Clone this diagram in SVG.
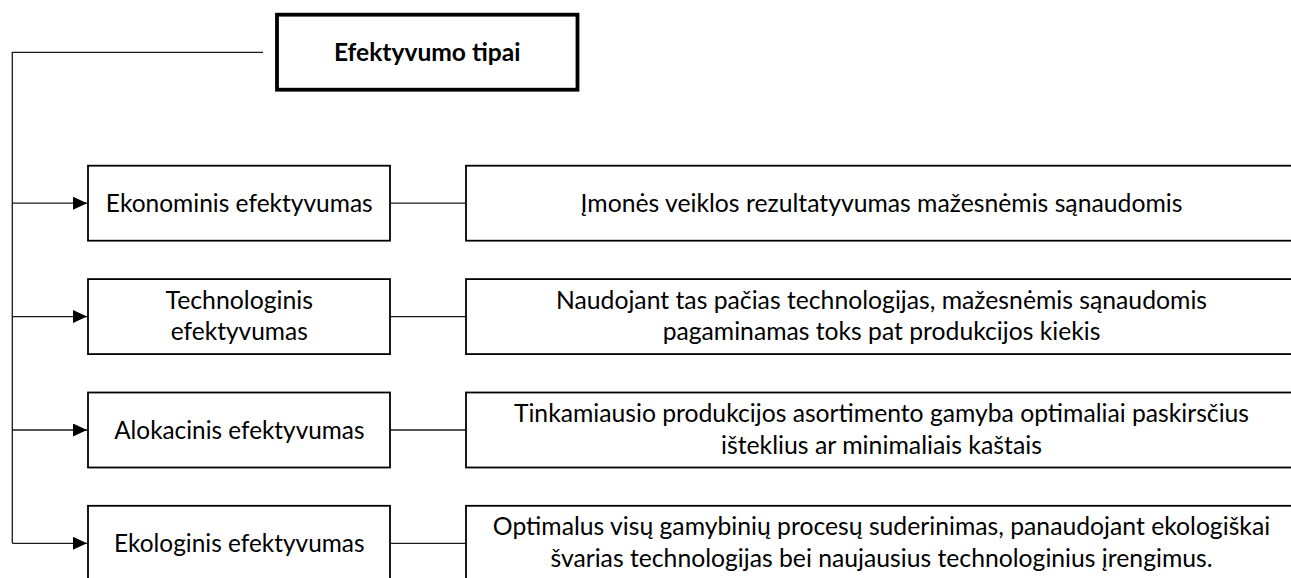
<svg xmlns="http://www.w3.org/2000/svg" width="1291" height="578" viewBox="0 0 1291 578">
<style>
  .box { fill: #fff; stroke: #000; stroke-width: 1.8; }
  .title { fill: #fff; stroke: #000; stroke-width: 3.8; }
  .conn { fill: none; stroke: #1a1a1a; stroke-width: 1.3; }
  text { font-family: Lato, "Open Sans", "Liberation Sans", sans-serif; font-size: 25px; fill: #000; text-anchor: middle; }
  .b { font-weight: bold; }
</style>
<defs>
  <marker id="arr" markerUnits="userSpaceOnUse" markerWidth="16" markerHeight="14" refX="14" refY="6.5" orient="auto">
    <path d="M0,0 L14,6.5 L0,13 Z" fill="#000"/>
  </marker>
</defs>

<g id="connectors">
  <polyline class="conn" points="263,52.3 12.3,52.3 12.3,543.3"/>
  <line class="conn" x1="12.3" y1="203.2" x2="87" y2="203.2" marker-end="url(#arr)"/>
  <line class="conn" x1="12.3" y1="316.6" x2="87" y2="316.6" marker-end="url(#arr)"/>
  <line class="conn" x1="12.3" y1="430" x2="87" y2="430" marker-end="url(#arr)"/>
  <line class="conn" x1="12.3" y1="543.3" x2="87" y2="543.3" marker-end="url(#arr)"/>
  <line class="conn" x1="390" y1="203.2" x2="466" y2="203.2"/>
  <line class="conn" x1="390" y1="316.6" x2="466" y2="316.6"/>
  <line class="conn" x1="390" y1="430" x2="466" y2="430"/>
  <line class="conn" x1="390" y1="543.3" x2="466" y2="543.3"/>
</g>

<g id="title">
  <rect class="title" x="277" y="14.7" width="300.5" height="75"/>
  <text class="b" x="427.2" y="60.7" textLength="186.6" lengthAdjust="spacingAndGlyphs">Efektyvumo tipai</text>
</g>

<g id="ekonominis">
  <rect class="box" x="88" y="165.7" width="302" height="75"/>
  <text x="239.3" y="212.2" textLength="266.9" lengthAdjust="spacingAndGlyphs">Ekonominis efektyvumas</text>
</g>
<g id="ekonominis-desc">
  <rect class="box" x="466" y="165.7" width="900" height="75"/>
  <text x="881.5" y="212.2" textLength="601.8" lengthAdjust="spacingAndGlyphs">Įmonės veiklos rezultatyvumas mažesnėmis sąnaudomis</text>
</g>

<g id="technologinis">
  <rect class="box" x="88" y="279.1" width="302" height="75"/>
  <text x="239.3" y="308.6" textLength="147.5" lengthAdjust="spacingAndGlyphs">Technologinis</text>
  <text x="239.3" y="340.3" textLength="137" lengthAdjust="spacingAndGlyphs">efektyvumas</text>
</g>
<g id="technologinis-desc">
  <rect class="box" x="466" y="279.1" width="900" height="75"/>
  <text x="881.5" y="308.6" textLength="651.1" lengthAdjust="spacingAndGlyphs">Naudojant tas pačias technologijas, mažesnėmis sąnaudomis</text>
  <text x="881.5" y="340.3" textLength="437.7" lengthAdjust="spacingAndGlyphs">pagaminamas toks pat produkcijos kiekis</text>
</g>

<g id="alokacinis">
  <rect class="box" x="88" y="392.5" width="302" height="75"/>
  <text x="239.3" y="439" textLength="250.3" lengthAdjust="spacingAndGlyphs">Alokacinis efektyvumas</text>
</g>
<g id="alokacinis-desc">
  <rect class="box" x="466" y="392.5" width="900" height="75"/>
  <text x="881.5" y="422" textLength="735.1" lengthAdjust="spacingAndGlyphs">Tinkamiausio produkcijos asortimento gamyba optimaliai paskirsčius</text>
  <text x="881.5" y="453.7" textLength="321.1" lengthAdjust="spacingAndGlyphs">išteklius ar minimaliais kaštais</text>
</g>

<g id="ekologinis">
  <rect class="box" x="88" y="505.8" width="302" height="75"/>
  <text x="239.3" y="552.3" textLength="250.5" lengthAdjust="spacingAndGlyphs">Ekologinis efektyvumas</text>
</g>
<g id="ekologinis-desc">
  <rect class="box" x="466" y="505.8" width="900" height="75"/>
  <text x="881.5" y="535.3" textLength="777.3" lengthAdjust="spacingAndGlyphs">Optimalus visų gamybinių procesų suderinimas, panaudojant ekologiškai</text>
  <text x="881.5" y="567" textLength="662.2" lengthAdjust="spacingAndGlyphs">švarias technologijas bei naujausius technologinius įrengimus.</text>
</g>
</svg>
